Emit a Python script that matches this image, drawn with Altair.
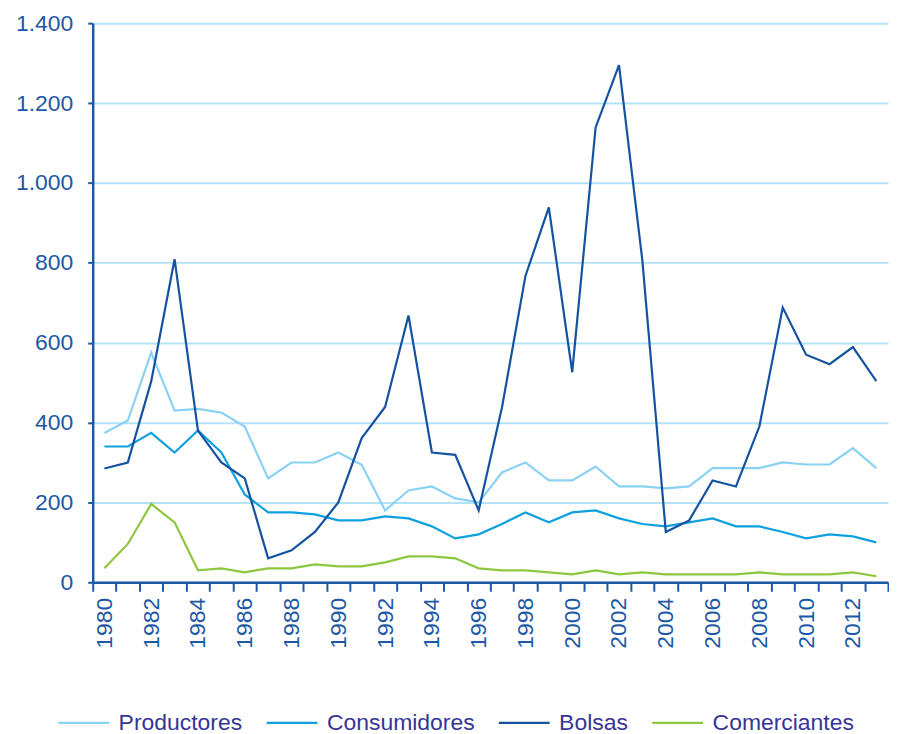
import altair as alt
import pandas as pd

years = list(range(1980, 2014))
productores = [374, 405, 575, 430, 434, 425, 390, 260, 300, 300, 325, 294,
               180, 230, 240, 210, 200, 275, 300, 255, 255, 290,
               240, 240, 235, 240, 286, 286, 286, 300, 295, 295, 336, 286]
consumidores = [340, 340, 374, 325, 380, 325, 220, 175, 175, 170, 155, 155,
                165, 160, 140, 110, 120, 146, 175, 150, 175, 180,
                160, 146, 140, 150, 160, 140, 140, 126, 110, 120, 115, 100]
bolsas = [285, 300, 503, 809, 380, 300, 260, 60, 80, 126, 200, 361,
          439, 668, 325, 319, 180, 439, 767, 939, 526, 1139,
          1295, 805, 126, 155, 255, 240, 390, 688, 570, 546, 589, 504]
comerciantes = [35, 96, 196, 150, 30, 35, 25, 35, 35, 45, 40, 40,
                50, 65, 65, 60, 35, 30, 30, 25, 20, 30,
                20, 25, 20, 20, 20, 20, 25, 20, 20, 20, 25, 15]

series_names = ["Productores", "Consumidores", "Bolsas", "Comerciantes"]
series_colors = ["#8ad2f4", "#0ea1e0", "#1553a0", "#8dc63f"]
y_ticks = [0, 200, 400, 600, 800, 1000, 1200, 1400]

rows = []
for name, vals in zip(series_names, [productores, consumidores, bolsas, comerciantes]):
    for yr, v in zip(years, vals):
        rows.append({"year": str(yr), "serie": name, "valor": v, "order": series_names.index(name)})
df = pd.DataFrame(rows)

FONT = "Liberation Sans"
AXIS_BLUE = "#1d58a6"

chart = alt.Chart(df).mark_line(strokeWidth=2.2).encode(
    x=alt.X("year:O", title=None, bandPosition=0.5,
            scale=alt.Scale(type="band", paddingInner=0, paddingOuter=0),
            axis=alt.Axis(labelAngle=-90, tickBand="extent", tickSize=9, tickWidth=2,
                          tickColor=AXIS_BLUE, domainColor=AXIS_BLUE, domainWidth=2.5,
                          labelColor=AXIS_BLUE, labelFont=FONT, labelFontSize=23,
                          labelPadding=6, grid=False,
                          labelExpr="toNumber(datum.value) % 2 == 0 ? datum.value : ''")),
    y=alt.Y("valor:Q", title=None,
            scale=alt.Scale(domain=[0, 1400], nice=False),
            axis=alt.Axis(values=y_ticks, tickSize=5, tickWidth=2, tickColor=AXIS_BLUE,
                          domainColor=AXIS_BLUE, domainWidth=2.5,
                          labelColor=AXIS_BLUE, labelFont=FONT, labelFontSize=23,
                          labelPadding=15, grid=True, gridColor="#b3e3f8", gridWidth=2,
                          labelExpr="replace(format(datum.value, ','), ',', '.')")),
    color=alt.Color("serie:N", title=None,
                    scale=alt.Scale(domain=series_names, range=series_colors),
                    legend=alt.Legend(orient="none", legendX=-36, legendY=675,
                                      direction="horizontal", symbolType="stroke",
                                      symbolSize=2601, symbolStrokeWidth=2.2,
                                      labelFont=FONT, labelFontSize=23, labelColor="#363596",
                                      labelOffset=8, columnPadding=19, padding=0,
                                      labelLimit=300)),
    order=alt.Order("order:Q"),
).properties(
    width=798, height=561,
    padding={"left": 7, "top": 3, "right": 0, "bottom": 0},
).configure_view(stroke=None)

chart.save("out.html", embed_options={"renderer": "svg", "actions": False})
